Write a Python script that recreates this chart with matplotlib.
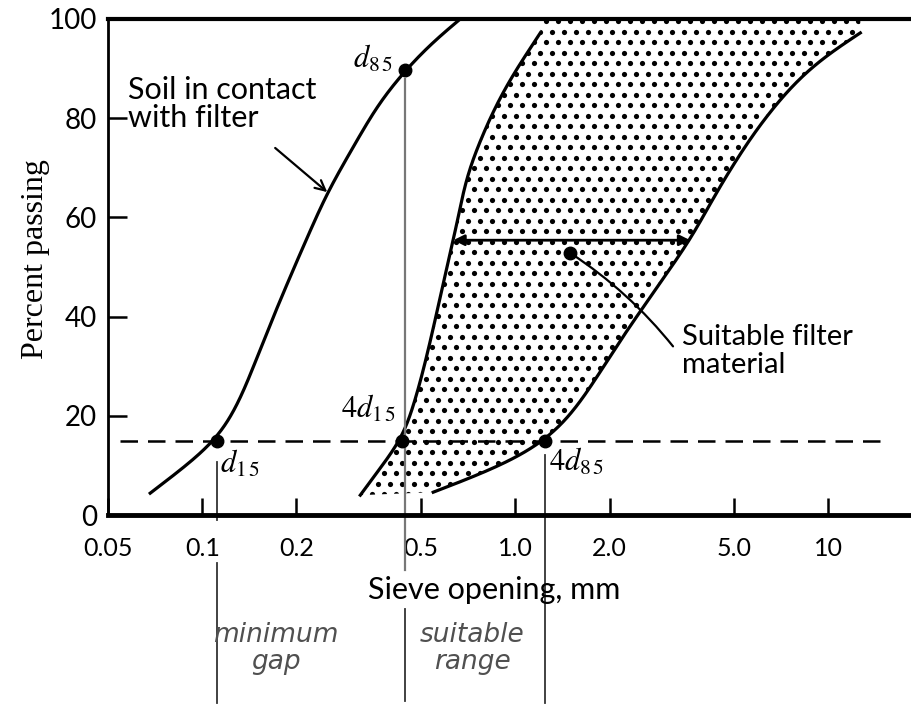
import numpy as np
import matplotlib
matplotlib.use("Agg")
import matplotlib.pyplot as plt
from matplotlib.patches import Polygon

# values (x in mm, y in percent passing)
soil_x = [0.0682, 0.1117, 0.1323, 0.1686, 0.2012, 0.2508, 0.3127, 0.3705, 0.4453, 0.547, 0.667]
soil_y = [4.4, 14.7, 23.2, 40.0, 51.4, 65.1, 75.6, 83.7, 89.7, 95.8, 100.0]

fine_x = [0.3198, 0.3705, 0.4355, 0.497, 0.543, 0.589, 0.634, 0.7025, 0.814, 0.943, 1.202]
fine_y = [4.0, 9.7, 14.7, 26.6, 36.7, 46.8, 55.4, 69.0, 79.0, 87.1, 97.2]

coarse_x = [0.547, 0.814, 1.037, 1.247, 1.499, 1.775, 2.166, 2.80, 3.62, 4.52, 5.76, 7.39, 9.42, 12.65]
coarse_y = [4.6, 8.5, 11.1, 14.5, 19.8, 26.6, 35.3, 45.4, 55.4, 66.5, 77.0, 85.7, 92.3, 97.2]

d15 = (0.1117, 15.0)
d85 = (0.4453, 89.7)
four_d15 = (0.4355, 15.0)
four_d85 = (1.247, 15.0)
filter_pt = (1.5, 52.8)
arrow_y = 55.4
arrow_x = (0.634, 3.62)

xticks = [0.05, 0.1, 0.2, 0.5, 1.0, 2.0, 5.0, 10]
xtick_labels = ["0.05", "0.1", "0.2", "0.5", "1.0", "2.0", "5.0", "10"]
yticks = [0, 20, 40, 60, 80, 100]


def smooth(xs, ys, sigma=4.0, n=400):
    # join the read points, then blur log10(x) along y with a gaussian
    yy = np.linspace(ys[0], ys[-1], n)
    lx = np.interp(yy, ys, np.log10(xs))
    dy = yy[1] - yy[0]
    r = int(3 * sigma / dy)
    kern = np.exp(-0.5 * (np.arange(-r, r + 1) * dy / sigma) ** 2)
    kern /= kern.sum()
    # odd reflection keeps the end points in place
    left = 2 * lx[0] - lx[1:r + 1][::-1]
    right = 2 * lx[-1] - lx[-r - 1:-1][::-1]
    out = np.convolve(np.concatenate([left, lx, right]), kern, mode="valid")
    return 10 ** out, yy


plt.rcParams["mathtext.fontset"] = "stix"
sans = "Lato"

fig = plt.figure(figsize=(9.12, 7.04), dpi=100)
ax = fig.add_axes([108 / 912, 189 / 704, 804 / 912, 496 / 704])

ax.set_xscale("log")
ax.set_xlim(0.05, 18.5)
ax.set_ylim(0, 100)

sx, sy = smooth(soil_x, soil_y)
fx, fy = smooth(fine_x, fine_y)
cx, cy = smooth(coarse_x, coarse_y)

# stippled band of suitable filter material
px = np.concatenate([fx, [fx[-1], cx[-1]], cx[::-1]])
py = np.concatenate([fy, [100, 100], cy[::-1]])
band = Polygon(np.column_stack([px, py]), closed=True, facecolor="none",
               edgecolor="none", transform=ax.transData)
ax.add_patch(band)
# staggered dot texture (about 12 px apart), clipped to the band
gx, gy = np.meshgrid(np.arange(0, 1.02, 12 / 804), np.arange(0, 1.02, 10.5 / 496))
gx = gx + (np.arange(gx.shape[0])[:, None] % 2) * 6 / 804
stip = ax.scatter(gx.ravel(), gy.ravel(), s=14, color="black", linewidths=0,
                  transform=ax.transAxes)
stip.set_clip_path(band)

ax.plot(sx, sy, color="black", lw=2.3)
ax.plot(fx, fy, color="black", lw=2.3)
ax.plot(cx, cy, color="black", lw=2.3)

ax.axhline(15, xmin=0.015, xmax=0.97, color="black", lw=1.8, ls=(0, (7, 4)))

for pt in [d15, d85, four_d15, four_d85, filter_pt]:
    ax.plot(*pt, "o", color="black", ms=9, zorder=5)

# vertical guide lines running below the axis
ax.plot([d15[0], d15[0]], [10.7, -1], color="#333333", lw=1.3, clip_on=False)
ax.plot([d15[0], d15[0]], [-9.7, -38], color="#333333", lw=1.3, clip_on=False)
ax.plot([d85[0], d85[0]], [88, -11], color="#777777", lw=1.6, clip_on=False)
ax.plot([d85[0], d85[0]], [-19, -37.5], color="#333333", lw=1.3, clip_on=False)
ax.plot([four_d85[0], four_d85[0]], [12, -38], color="#333333", lw=1.3, clip_on=False)

ax.annotate("", xy=(arrow_x[0], arrow_y), xytext=(arrow_x[1], arrow_y),
            arrowprops=dict(arrowstyle="<|-|>", color="black", lw=2,
                            mutation_scale=16, shrinkA=0, shrinkB=0))
ax.annotate("", xy=filter_pt, xytext=(3.19, 34.0),
            arrowprops=dict(arrowstyle="-", color="black", lw=1.6,
                            shrinkA=0, shrinkB=0, connectionstyle="arc3,rad=0.08"))
ax.annotate("", xy=(0.2508, 65.1), xytext=(0.171, 74),
            arrowprops=dict(arrowstyle="->", color="black", lw=1.6,
                            mutation_scale=18, shrinkA=0, shrinkB=0))

ax.text(0.058, 88.5, "Soil in contact\nwith filter", family=sans, fontsize=22,
        va="top", ha="left", linespacing=1.0)
ax.text(3.4, 38.5, "Suitable filter\nmaterial", family=sans, fontsize=21,
        va="top", ha="left", linespacing=1.1)
ax.text(0.405, 92, r"$d_{8\,5}$", fontsize=22, ha="right", va="center")
ax.text(0.114, 10.5, r"$d_{1\,5}$", fontsize=22, ha="left", va="center")
ax.text(0.415, 21.5, r"$4d_{1\,5}$", fontsize=22, ha="right", va="center")
ax.text(1.28, 10.8, r"$4d_{8\,5}$", fontsize=22, ha="left", va="center")

ax.text(0.172, -27, "minimum\ngap", fontsize=19, style="italic", color="#505050",
        family="DejaVu Sans", ha="center", va="center", linespacing=1.05)
ax.text(0.73, -27, "suitable\nrange", fontsize=19, style="italic", color="#505050",
        family="DejaVu Sans", ha="center", va="center", linespacing=1.05)

ax.set_xticks(xticks)
ax.set_xticklabels(xtick_labels)
ax.minorticks_off()
ax.set_yticks(yticks)
ax.tick_params(axis="x", direction="in", length=12, width=1.8, pad=16, labelsize=18)
ax.tick_params(axis="y", direction="in", length=14, width=1.8, pad=8, labelsize=20)
for lab in ax.get_xticklabels() + ax.get_yticklabels():
    lab.set_family(sans)

ax.spines["right"].set_visible(False)
ax.spines["top"].set_linewidth(3)
ax.spines["bottom"].set_linewidth(3.5)
ax.spines["left"].set_linewidth(2)

fig.text(494 / 912, 1 - 590 / 704, "Sieve opening, mm", family=sans, fontsize=22,
         ha="center", va="center")
fig.text(36 / 912, 1 - 259 / 704, "Percent passing", family="Liberation Serif",
         fontsize=23, rotation=90, ha="center", va="center")

fig.savefig("out.png", dpi=100)
